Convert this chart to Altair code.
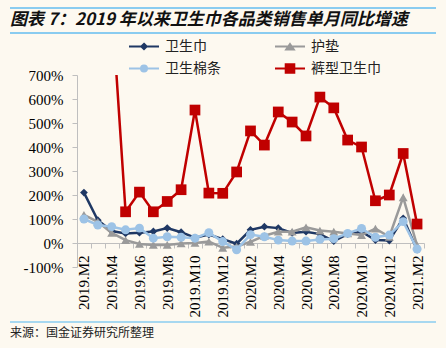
import altair as alt
import pandas as pd

months = ["2019.M2", "2019.M3", "2019.M4", "2019.M5", "2019.M6", "2019.M7", "2019.M8",
          "2019.M9", "2019.M10", "2019.M11", "2019.M12", "2020.M1", "2020.M2", "2020.M3",
          "2020.M4", "2020.M5", "2020.M6", "2020.M7", "2020.M8", "2020.M9", "2020.M10",
          "2020.M11", "2020.M12", "2021.M1", "2021.M2"]

names = ["卫生巾", "护垫", "卫生棉条", "裤型卫生巾"]
colors = ["#1F3864", "#9A9A9A", "#9DC3E6", "#C00000"]

sanitary_napkin = [210, 95, 50, 40, 43, 48, 62, 45, 22, 35, 16, -3, 55, 68, 62, 42, 47, 37,
                   8, 37, 47, 12, 10, 103, -28]
panty_liner = [117, 88, 42, 12, -4, -8, -8, -2, 0, 6, -20, -15, 5, 30, 47, 47, 65, 52,
               47, 40, 33, 60, 26, 190, -10]
tampon = [100, 75, 68, 55, 62, 20, 26, 24, 20, 43, 6, -28, 35, 26, 12, 8, 8, 15,
          18, 40, 61, 24, 33, 89, -25]
pants_napkin = [None, None, 1000, 130, 212, 130, 173, 222, 554, 208, 207, 296, 467, 408,
                546, 504, 446, 608, 563, 429, 400, 176, 200, 373, 79]

y_ticks = [-100, 0, 100, 200, 300, 400, 500, 600, 700]

title_text = "图表 7：2019 年以来卫生巾各品类销售单月同比增速"
source_text = "来源：国金证券研究所整理"

rows = []
for name, vals in zip(names, [sanitary_napkin, panty_liner, tampon, pants_napkin]):
    for m, v in zip(months, vals):
        if v is not None:
            rows.append({"month": m, "series": name, "value": v})
df = pd.DataFrame(rows)

# marker styles
shapes = ["diamond", "triangle-up", "circle", "square"]
sizes = [60, 80, 80, 115]


# legend symbol paths: a line with a (stroke-filled) marker in the middle
def diamond(r):
    return f"M0,{-r}L{r},0L0,{r}L{-r},0Z"


def tri(r):
    return f"M0,{-0.8*r + 0.05}L{r},{0.65*r + 0.05}L{-r},{0.65*r + 0.05}Z"


def circ(r):
    return f"M{r},0A{r},{r} 0 1,1 {-r},0A{r},{r} 0 1,1 {r},0Z"


def sq(r):
    return f"M{-r},{-r}H{r}V{r}H{-r}Z"


LINE = "M-1.5,0H1.5"
legend_paths = [
    LINE + diamond(0.27) + diamond(0.13) + diamond(0.02),
    LINE + tri(0.38) + tri(0.2) + tri(0.04),
    LINE + circ(0.3) + circ(0.15) + circ(0.02),
    LINE + sq(0.43) + sq(0.28) + sq(0.13) + sq(0.02),
]
# the legend grid fills column by column: order entries so rows read 卫生巾/护垫, 卫生棉条/裤型卫生巾
legend_order = [0, 2, 1, 3]
legend_names = [names[i] for i in legend_order]
legend_colors = [colors[i] for i in legend_order]
legend_shapes = [legend_paths[i] for i in legend_order]

FONT_CJK = "Noto Sans CJK SC"
FONT_NUM = "Liberation Serif"
AXIS_GRAY = "#BFBFBF"

x_scale = alt.Scale(type="band", domain=months, paddingInner=0, paddingOuter=0)
x_axis = alt.Axis(
    title=None, offset=-24, tickBand="extent", labelAngle=-90,
    labelExpr="parseInt(split(datum.value, 'M')[1]) % 2 == 0 ? datum.value : ''",
    labelOverlap=False, domainColor=AXIS_GRAY, tickColor=AXIS_GRAY, tickSize=5,
    labelPadding=7, labelFont=FONT_NUM, labelFontSize=15, labelColor="#000000",
)
y_scale = alt.Scale(domain=[-100, 700], nice=False, zero=False)
y_axis = alt.Axis(
    title=None, values=y_ticks, labelExpr="datum.value + '%'", grid=False,
    labelOverlap=False, labelFlush=False, labelBound=False,
    tickSize=5, tickColor=AXIS_GRAY, domainColor=AXIS_GRAY, labelPadding=9,
    labelFont=FONT_NUM, labelFontSize=15, labelColor="#000000",
)
x_enc = alt.X("month:N", scale=x_scale, axis=x_axis)
y_enc = alt.Y("value:Q", scale=y_scale, axis=y_axis)

layers = []
for n, c, s, z in zip(names, colors, shapes, sizes):
    base = alt.Chart(df).transform_filter(alt.datum.series == n)
    layers.append(base.mark_line(color=c, strokeWidth=2.5, clip=True).encode(x=x_enc, y=y_enc))
    layers.append(base.mark_point(shape=s, size=z, filled=True, color=c, opacity=1,
                                  strokeWidth=0, clip=True).encode(x=x_enc, y=y_enc))

legend = alt.Legend(
    title=None, orient="none", legendX=56, legendY=-39.5, columns=2,
    symbolSize=400, symbolStrokeWidth=2, labelOffset=10, rowPadding=4, columnPadding=50,
    padding=0, labelFont=FONT_CJK, labelFontSize=14, labelColor="#222222",
)
# legend carrier: same data, placed far outside the clipped plot so only its legend shows
carrier = alt.Chart(df).mark_point(filled=False, strokeWidth=2, opacity=1, clip=True).encode(
    x=x_enc,
    y=alt.YDatum(5000, type="quantitative", scale=y_scale, axis=y_axis),
    color=alt.Color("series:N", scale=alt.Scale(domain=legend_names, range=legend_colors),
                    legend=legend),
    shape=alt.Shape("series:N", scale=alt.Scale(domain=legend_names, range=legend_shapes),
                    legend=legend),
)

one = pd.DataFrame({"t": [title_text]})
title = alt.Chart(one).mark_text(
    align="left", baseline="middle", font=FONT_CJK, fontSize=17, fontWeight="bold",
    fontStyle="italic", color="#111111",
).encode(text="t:N", x=alt.value(-67), y=alt.value(-55))

src = alt.Chart(pd.DataFrame({"t": [source_text]})).mark_text(
    align="left", baseline="middle", font=FONT_CJK, fontSize=12, color="#222222",
).encode(text="t:N", x=alt.value(-67), y=alt.value(258))

RULE_BLUE = "#8ACCF0"
rule_df = pd.DataFrame({"a": [0]})
rule1 = alt.Chart(rule_df).mark_rule(color=RULE_BLUE, strokeWidth=2).encode(
    x=alt.value(-67), x2=alt.value(359), y=alt.value(-67))
rule2 = alt.Chart(rule_df).mark_rule(color=RULE_BLUE, strokeWidth=2).encode(
    x=alt.value(-67), x2=alt.value(359), y=alt.value(-42))
rule3 = alt.Chart(rule_df).mark_rule(color=RULE_BLUE, strokeWidth=1.5).encode(
    x=alt.value(-67), x2=alt.value(359), y=alt.value(247))

chart = alt.layer(*layers, carrier, title, src, rule1, rule2, rule3).properties(
    width=347, height=192,
    autosize=alt.AutoSizeParams(type="none"),
    padding={"left": 77, "top": 75, "right": 22, "bottom": 81},
    background="#FDF9F0",
).configure_view(stroke=None)

chart.save("out.html", embed_options={"renderer": "svg", "actions": False})
